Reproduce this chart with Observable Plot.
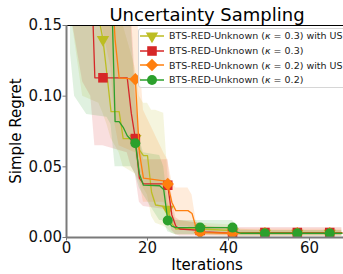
<!DOCTYPE html>
<html>
<head>
<meta charset="utf-8">
<script src="https://cdn.jsdelivr.net/npm/d3@7"></script>
<script src="https://cdn.jsdelivr.net/npm/@observablehq/plot@0.6"></script>
<style>
  html, body { margin: 0; padding: 0; background: #fff; }
  #wrap { position: relative; width: 343px; height: 274px; overflow: hidden; font-family: "DejaVu Sans", sans-serif; color: #000; }
  #wrap > svg { position: absolute; left: 0; top: 0; }
  .txt { position: absolute; white-space: nowrap; line-height: 1; }
  #legend { position: absolute; left: 138px; top: 28px; width: 215px; height: 60px; box-sizing: border-box;
            border: 1px solid #d6d6d6; border-radius: 3px; background: rgba(255,255,255,0.82); }
  .lrow { position: absolute; left: 0; height: 14px; display: flex; align-items: center; }
  .lrow svg { display: block; flex: none; }
  .lrow span { font-size: 9.5px; color: #222; margin-left: 2px; white-space: nowrap; line-height: 1; }
</style>
</head>
<body>
<div id="wrap"></div>
<script>
// ---- data ----
const seriesNames = [
  "BTS-RED-Unknown (κ = 0.3) with US",
  "BTS-RED-Unknown (κ = 0.3)",
  "BTS-RED-Unknown (κ = 0.2) with US",
  "BTS-RED-Unknown (κ = 0.2)"
];
const seriesColors = ["#bcbd22", "#d62728", "#ff7f0e", "#2ca02c"];
const seriesSymbols = ["triangle", "square", "diamond2", "circle"];

// κ = 0.3 with US (olive)
const iterA = [1, 4, 8, 9, 10, 11, 13, 14, 17, 18, 19, 20, 21, 22, 24, 25, 26, 27, 33, 40, 41, 42, 49, 57, 65, 68];
const meanA = [0.2, 0.2, 0.155, 0.14, 0.115, 0.089, 0.089, 0.07, 0.07, 0.062, 0.058, 0.058, 0.032, 0.023, 0.022, 0.02, 0.01, 0.006, 0.006, 0.005, 0.004, 0.003, 0.003, 0.003, 0.003, 0.003];
const loA   = [0.16, 0.1, 0.095, 0.088, 0.08, 0.07, 0.06, 0.05, 0.045, 0.04, 0.035, 0.03, 0.015, 0.01, 0.008, 0.006, 0.003, 0.002, 0.002, 0.001, 0.001, 0.001, 0.001, 0.001, 0.001, 0.001];
const hiA   = [0.3, 0.3, 0.3, 0.3, 0.28, 0.25, 0.2, 0.15, 0.12, 0.1, 0.095, 0.095, 0.09, 0.09, 0.088, 0.045, 0.02, 0.012, 0.01, 0.009, 0.008, 0.006, 0.005, 0.005, 0.005, 0.005];

// κ = 0.3 (red)
const iterB = [1, 4, 6, 7, 9, 15, 16, 17, 18, 19, 24, 25, 26, 27, 28, 33, 34, 41, 49, 57, 65, 68];
const meanB = [0.2, 0.2, 0.2, 0.113, 0.113, 0.113, 0.088, 0.07, 0.042, 0.038, 0.038, 0.037, 0.016, 0.008, 0.006, 0.005, 0.004, 0.003, 0.0035, 0.0035, 0.0035, 0.0035];
const loB   = [0.16, 0.11, 0.1, 0.065, 0.065, 0.06, 0.05, 0.045, 0.025, 0.022, 0.02, 0.018, 0.005, 0.002, 0.001, 0.001, 0.001, 0.001, 0.001, 0.001, 0.001, 0.001];
const hiB   = [0.3, 0.3, 0.3, 0.25, 0.25, 0.2, 0.16, 0.11, 0.07, 0.055, 0.055, 0.055, 0.03, 0.014, 0.012, 0.01, 0.008, 0.007, 0.007, 0.007, 0.007, 0.007];

// κ = 0.2 with US (orange)
const iterC = [1, 8, 11, 12, 13, 17, 18, 19, 24, 25, 26, 27, 30, 31, 32, 33, 41, 49, 57, 65, 68];
const meanC = [0.2, 0.2, 0.19, 0.14, 0.113, 0.112, 0.06, 0.042, 0.04, 0.0378, 0.025, 0.019, 0.019, 0.017, 0.007, 0.0035, 0.003, 0.003, 0.003, 0.003, 0.003];
const loC   = [0.16, 0.16, 0.12, 0.08, 0.065, 0.06, 0.04, 0.025, 0.025, 0.022, 0.01, 0.008, 0.008, 0.005, 0.002, 0.001, 0.001, 0.001, 0.001, 0.001, 0.001];
const hiC   = [0.3, 0.3, 0.3, 0.3, 0.25, 0.2, 0.13, 0.09, 0.06, 0.055, 0.04, 0.035, 0.035, 0.03, 0.012, 0.008, 0.006, 0.006, 0.006, 0.006, 0.006];

// κ = 0.2 (green)
const iterD = [1, 2, 5, 10, 11, 12, 13, 14, 15, 16, 17, 18, 19, 23, 24, 25, 26, 27, 33, 41, 42, 43, 49, 57, 65, 68];
const meanD = [0.2, 0.2, 0.2, 0.2, 0.19, 0.082, 0.082, 0.078, 0.072, 0.069, 0.0667, 0.045, 0.037, 0.0366, 0.034, 0.012, 0.008, 0.007, 0.007, 0.007, 0.004, 0.003, 0.003, 0.003, 0.003, 0.003];
const loD   = [0.13, 0.1, 0.087, 0.085, 0.08, 0.05, 0.05, 0.05, 0.05, 0.05, 0.045, 0.035, 0.03, 0.012, 0.012, 0.004, 0.003, 0.002, 0.002, 0.002, 0.001, 0.001, 0.001, 0.001, 0.001, 0.001];
const hiD   = [0.3, 0.3, 0.3, 0.3, 0.3, 0.25, 0.22, 0.2, 0.18, 0.15, 0.1, 0.07, 0.06, 0.058, 0.05, 0.025, 0.015, 0.012, 0.012, 0.012, 0.008, 0.005, 0.005, 0.005, 0.005, 0.005];

const xTicks = [0, 20, 40, 60];
const yTicks = [0, 0.05, 0.10, 0.15];
const titleText = "Uncertainty Sampling";
const xLabel = "Iterations";
const yLabel = "Simple Regret";

// ---- build tables ----
const raw = [[iterA, meanA, loA, hiA], [iterB, meanB, loB, hiB], [iterC, meanC, loC, hiC], [iterD, meanD, loD, hiD]];
const series = raw.map(([it, m, lo, hi], k) => ({
  color: seriesColors[k], symbol: seriesSymbols[k], name: seriesNames[k],
  rows: it.map((x, j) => ({i: x, m: m[j], lo: lo[j], hi: hi[j]}))
}));
const markerFilter = d => d.i >= 1 && (d.i - 1) % 8 === 0;
const symbolR = {triangle: 4.6, square: 5.4, diamond2: 5.6, circle: 5};

const marks = [];
for (const s of series) {
  marks.push(Plot.areaY(s.rows, {x: "i", y1: "lo", y2: "hi", fill: s.color, fillOpacity: 0.15, clip: true}));
}
for (const s of series) {
  marks.push(Plot.line(s.rows, {x: "i", y: "m", stroke: s.color, strokeWidth: 1.3, clip: true}));
  marks.push(Plot.dot(s.rows.filter(markerFilter), {
    x: "i", y: "m", symbol: s.symbol, r: symbolR[s.symbol], fill: s.color, stroke: "none",
    rotate: s.symbol === "triangle" ? 180 : 0, clip: true
  }));
}
marks.push(Plot.ruleY([yTicks[yTicks.length - 1]], {stroke: "#000", strokeWidth: 1}));
marks.push(Plot.ruleX([0], {stroke: "#7a7a7a", strokeWidth: 2}));
marks.push(Plot.ruleY([0], {stroke: "#7a7a7a", strokeWidth: 2}));
marks.push(Plot.axisY({ticks: yTicks, tickFormat: d3.format(".2f"), tickSize: 3.5, tickPadding: 1, stroke: "#7a7a7a", fill: "#111", label: null, fontSize: 15}));
marks.push(Plot.axisX({ticks: xTicks, tickFormat: d3.format("d"), tickSize: 3.5, tickPadding: 1, stroke: "#7a7a7a", fill: "#111", label: null, fontSize: 15}));

const chart = Plot.plot({
  width: 343, height: 274,
  marginLeft: 66, marginRight: 0, marginTop: 25, marginBottom: 37,
  x: {domain: [0, 68.4]},
  y: {domain: [0, 0.15]},
  style: {fontFamily: "DejaVu Sans", fontSize: "15px", background: "transparent", overflow: "visible"},
  marks
});

const wrap = document.getElementById("wrap");
wrap.appendChild(chart);

function addText(txt, css) {
  const d = document.createElement("div");
  d.className = "txt";
  d.textContent = txt;
  Object.assign(d.style, css);
  wrap.appendChild(d);
  return d;
}
addText(titleText, {left: "207px", top: "6.3px", fontSize: "18px", transform: "translateX(-50%)"});
addText(xLabel, {left: "207px", top: "257.5px", fontSize: "15px", transform: "translateX(-50%)"});
addText(yLabel, {left: "16px", top: "131px", fontSize: "15px", transform: "translate(-50%,-50%) rotate(-90deg)"});

// legend
const leg = document.createElement("div");
leg.id = "legend";
wrap.appendChild(leg);
const symMap = {triangle: d3.symbolTriangle, square: d3.symbolSquare, diamond2: d3.symbolDiamond2, circle: d3.symbolCircle};
series.forEach((s, k) => {
  const row = document.createElement("div");
  row.className = "lrow";
  row.style.top = (8 + k * 14.7 - 7 - 1) + "px";
  const r = symbolR[s.symbol];
  const path = d3.symbol(symMap[s.symbol], Math.PI * r * r)();
  const rot = s.symbol === "triangle" ? 180 : 0;
  row.innerHTML = `<svg width="28" height="14" style="overflow:visible">
      <line x1="1" x2="25" y1="7" y2="7" stroke="${s.color}" stroke-width="1.5"/>
      <path d="${path}" transform="translate(13,7) rotate(${rot})" fill="${s.color}"/>
    </svg><span>${s.name.replace("κ", "<i>κ</i>")}</span>`;
  leg.appendChild(row);
});
</script>
</body>
</html>
